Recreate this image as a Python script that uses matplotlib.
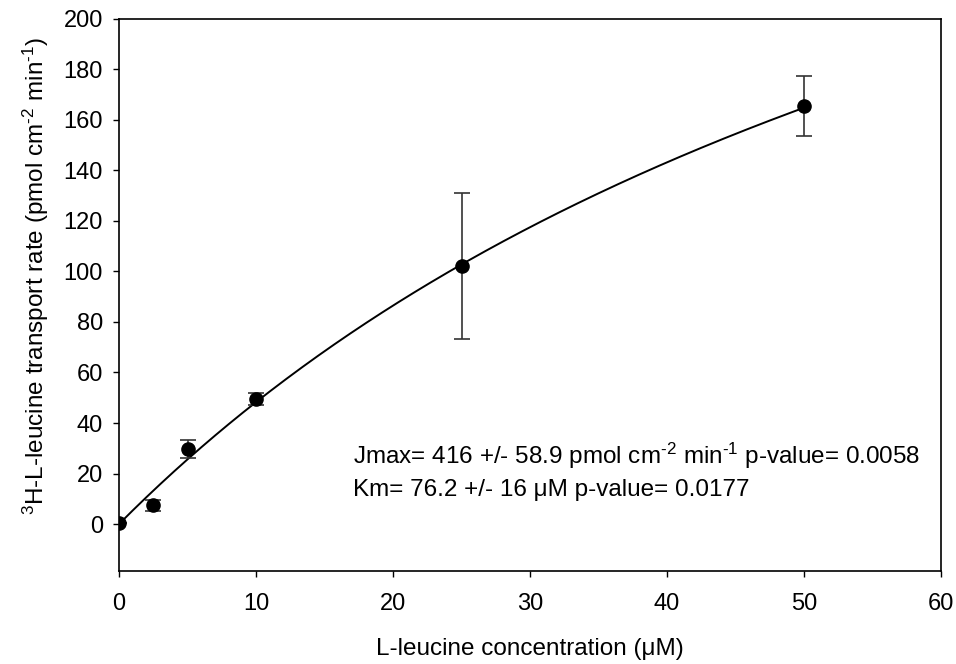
"""Leucine transport kinetics: Michaelis-Menten fit with error bars."""

import matplotlib

matplotlib.use("Agg")

import matplotlib.pyplot as plt
import numpy as np

plt.rcParams["font.family"] = ["Liberation Sans", "DejaVu Sans"]
plt.rcParams["mathtext.fontset"] = "custom"
plt.rcParams["mathtext.rm"] = "Liberation Sans"
plt.rcParams["mathtext.it"] = "Liberation Sans:italic"
plt.rcParams["mathtext.default"] = "rm"

# measured points
concentration = [0, 2.5, 5, 10, 25, 50]
transport_rate = [0.3, 7.5, 29.6, 49.5, 102.2, 165.5]
rate_error = [0.0, 2.2, 3.5, 2.5, 28.8, 11.7]

# fitted parameters
JMAX = 416.0
KM = 76.2

x_ticks = [0, 10, 20, 30, 40, 50, 60]
y_ticks = [0, 20, 40, 60, 80, 100, 120, 140, 160, 180, 200]


def main() -> None:
    fig = plt.figure(figsize=(9.56, 6.64), dpi=100)
    ax = fig.add_axes([0.1245, 0.140, 0.8598, 0.8316])

    x_fit = np.linspace(0, max(concentration), 300)
    y_fit = JMAX * x_fit / (KM + x_fit)
    ax.plot(x_fit, y_fit, color="black", linewidth=1.4, zorder=2)

    ax.errorbar(
        concentration,
        transport_rate,
        yerr=rate_error,
        fmt="o",
        color="black",
        ecolor="#333333",
        elinewidth=1.2,
        capsize=5.8,
        capthick=1.2,
        markersize=9.5,
        zorder=3,
    )

    ax.set_xlim(0, 60)
    ax.set_ylim(-18.6, 200)
    ax.set_xticks(x_ticks)
    ax.set_yticks(y_ticks)
    ax.tick_params(direction="out", length=4.5, width=1, labelsize=17)
    ax.tick_params(axis="x", pad=11)
    ax.tick_params(axis="y", pad=7)
    for spine in ax.spines.values():
        spine.set_linewidth(1.2)

    ax.set_xlabel("L-leucine concentration (μM)", fontsize=17.5, labelpad=17)
    ax.set_ylabel(
        r"$^{3}$H-L-leucine transport rate (pmol cm$^{‐2}$ min$^{‐1}$)",
        fontsize=17.5,
    )
    ax.yaxis.set_label_coords(-0.083, 0.535)

    ax.text(
        17.1,
        26.9,
        r"Jmax= 416 +/- 58.9 pmol cm$^{‐2}$ min$^{‐1}$ p-value= 0.0058",
        fontsize=17.5,
        va="center",
        ha="left",
    )
    ax.text(
        17.1,
        13.5,
        "Km= 76.2 +/- 16 μM p-value= 0.0177",
        fontsize=17.5,
        va="center",
        ha="left",
    )

    fig.savefig("out.png", dpi=100, facecolor="white")
    plt.close(fig)


if __name__ == "__main__":
    main()
